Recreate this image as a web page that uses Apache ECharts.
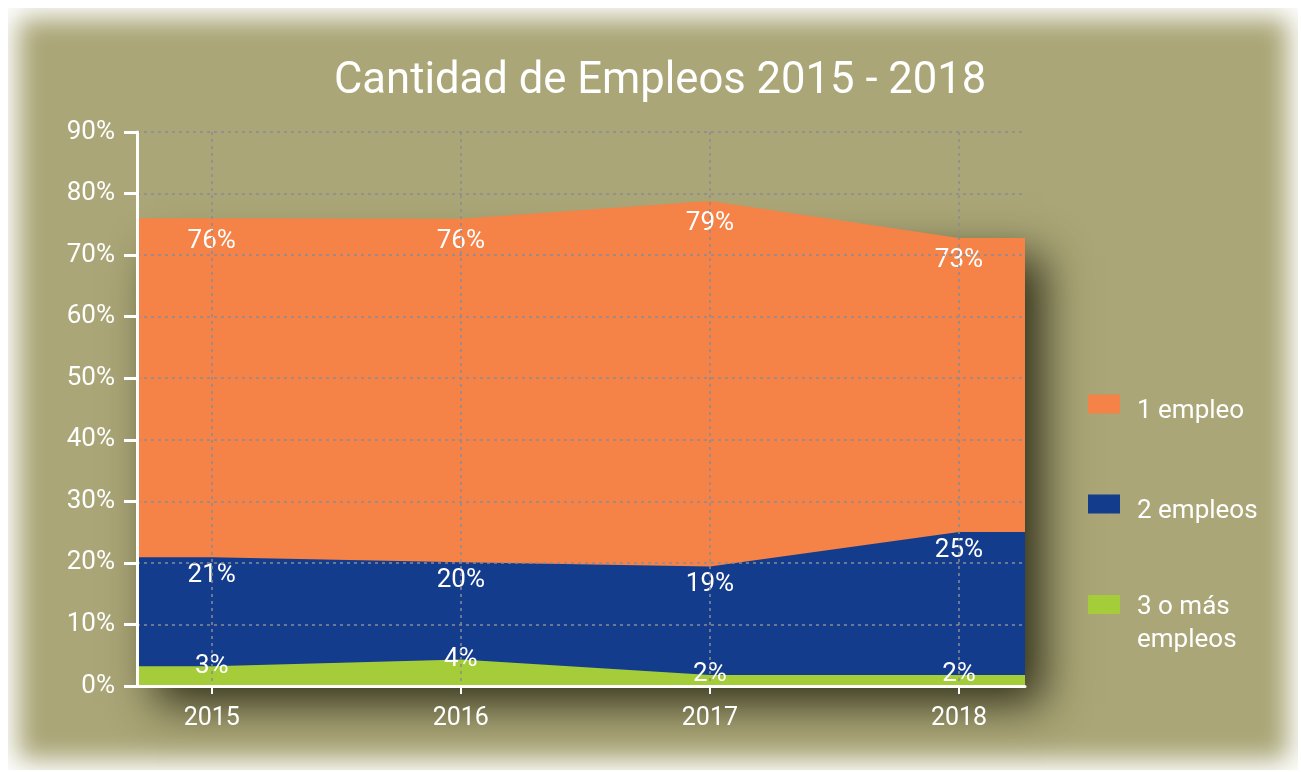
<!DOCTYPE html>
<html>
<head>
<meta charset="utf-8">
<script src="https://cdn.jsdelivr.net/npm/echarts@6/dist/echarts.min.js"></script>
<style>
html, body { margin: 0; padding: 0; background: #fff; }
#panel { position: absolute; left: 8px; top: 8px; width: 1290px; height: 762px; background: #aaa677; box-shadow: inset 0 0 26px 10px #fff; }
#main { position: absolute; left: 0; top: 0; width: 1301px; height: 772px; }
</style>
</head>
<body>
<div id="panel"></div>
<div id="main"></div>
<script>
// datos
var years = [2015, 2016, 2017, 2018];
var unEmpleo = [76, 75.9, 78.8, 72.8];
var dosEmpleos = [20.9, 20.1, 19.4, 25];
var tresOMas = [3.2, 4.3, 1.8, 1.8];
var seriesNames = ['1 empleo', '2 empleos', '3 o más\nempleos'];

// el área llega hasta los bordes del gráfico, como en Excel
var xMin = 2014.7, xMax = 2018.265;

function toData(vals) {
    var d = [{ value: [xMin, vals[0]], label: { show: false } }];
    years.forEach(function (y, i) { d.push([y, vals[i]]); });
    d.push({ value: [xMax, vals[vals.length - 1]], label: { show: false } });
    return d;
}

var font = 'Roboto';
var gridColor = '#8a8a92';

function legendFor(name, top, padTop) {
    return {
        data: [name], left: 1088, top: top, padding: 0,
        itemWidth: 32, itemHeight: 19, icon: 'rect',
        // primera línea a la altura del cuadro
        formatter: function (n) { return '{t|' + (n.indexOf('\n') >= 0 ? '\n' + n : n) + '}'; },
        textStyle: {
            color: '#fff', fontSize: 26, fontFamily: font, lineHeight: 33,
            rich: { t: { color: '#fff', fontSize: 26, fontFamily: font, lineHeight: 33, padding: [padTop, 0, 0, 12] } }
        }
    };
}

function pctLabel(p) { return Math.round(p.value[1]) + '%'; }

var myChart = echarts.init(document.getElementById('main'));
var option = {
    backgroundColor: 'transparent',
    animation: false,
    title: {
        text: 'Cantidad de Empleos 2015 - 2018',
        left: 329,
        top: 55,
        textStyle: { color: '#fff', fontSize: 43.6, fontWeight: 'normal', fontFamily: font }
    },
    legend: [
        legendFor(seriesNames[0], 384, 14),
        legendFor(seriesNames[1], 484, 14),
        legendFor(seriesNames[2], 555, 6)
    ],
    grid: { left: 137, right: 276, top: 132, bottom: 86 },
    xAxis: {
        type: 'value',
        min: xMin,
        max: xMax,
        z: 10,
        axisLine: { show: true, lineStyle: { color: '#fff', width: 3 } },
        axisTick: { show: true, customValues: years, length: 8, lineStyle: { color: '#fff', width: 2 } },
        axisLabel: {
            customValues: years, color: '#fff', fontSize: 25, fontFamily: font, margin: 20,
            formatter: function (v) { return String(v); }
        },
        splitLine: { show: true, lineStyle: { color: gridColor, width: 1.5, type: [3, 4] } }
    },
    yAxis: {
        type: 'value',
        min: 0,
        max: 90,
        interval: 10,
        z: 10,
        axisLine: { show: true, lineStyle: { color: '#fff', width: 3 } },
        axisTick: { show: true, length: 13, lineStyle: { color: '#fff', width: 3 } },
        axisLabel: { color: '#fff', fontSize: 26, fontFamily: font, margin: 22, formatter: '{value}%' },
        splitLine: { show: true, lineStyle: { color: gridColor, width: 1.5, type: [3, 4] } }
    },
    series: [
        {
            name: seriesNames[0],
            type: 'line',
            data: toData(unEmpleo),
            symbol: 'circle', symbolSize: 0,
            itemStyle: { color: '#f58246' },
            lineStyle: { width: 0 },
            areaStyle: { color: '#f58246', opacity: 1 },
            label: { show: true, position: 'bottom', distance: 10, color: '#fff', fontSize: 26, fontFamily: font, formatter: pctLabel }
        },
        {
            name: seriesNames[1],
            type: 'line',
            data: toData(dosEmpleos),
            symbol: 'circle', symbolSize: 0,
            itemStyle: { color: '#143c8c' },
            lineStyle: { width: 0 },
            areaStyle: { color: '#143c8c', opacity: 1 },
            label: { show: true, position: 'bottom', distance: 5, color: '#fff', fontSize: 26, fontFamily: font, formatter: pctLabel }
        },
        {
            name: seriesNames[2],
            type: 'line',
            data: toData(tresOMas),
            symbol: 'circle', symbolSize: 0,
            itemStyle: { color: '#a5cd39' },
            lineStyle: { width: 0 },
            areaStyle: { color: '#a5cd39', opacity: 1 },
            label: { show: true, position: 'inside', color: '#fff', fontSize: 26, fontFamily: font, formatter: pctLabel }
        }
    ]
};

myChart.setOption(option);

// sombra del bloque de áreas (la serie se recorta a lo ancho del grid)
var topLeft = myChart.convertToPixel({ gridIndex: 0 }, [xMin, Math.min.apply(null, unEmpleo)]);
var bottomRight = myChart.convertToPixel({ gridIndex: 0 }, [xMax, 0]);
myChart.setOption({
    graphic: [{
        type: 'rect',
        z: 1,
        silent: true,
        shape: { x: topLeft[0], y: topLeft[1], width: bottomRight[0] - topLeft[0], height: bottomRight[1] - topLeft[1] },
        style: {
            fill: '#f58246',
            shadowColor: 'rgba(35, 35, 15, 0.9)', shadowBlur: 42, shadowOffsetX: 18, shadowOffsetY: 18
        }
    }]
});
</script>
</body>
</html>
